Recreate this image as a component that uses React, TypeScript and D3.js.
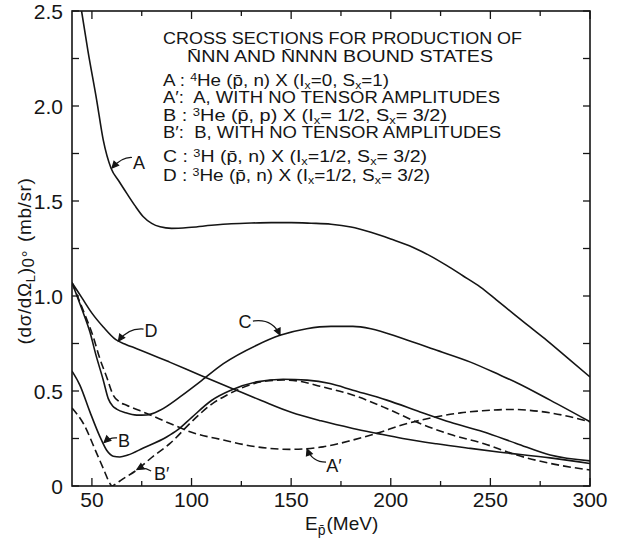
import React from 'react';
import * as d3 from 'd3';

const W = 627;
const H = 542;
const FONT = '"Liberation Sans", Arial, sans-serif';
const INK = '#151515';

// axis domains and ticks
const energyDomain: [number, number] = [40, 300];
const sigmaDomain: [number, number] = [0, 2.5];
const xLabelTicks = [50, 100, 150, 200, 250, 300];
const xMinorTicks = [75, 125, 175, 225, 275];
const yLabelTicks = [0, 0.5, 1, 1.5, 2, 2.5];
const yMinorTicks = [0.25, 0.75, 1.25, 1.75, 2.25];

// curves: [E (MeV), dsigma/dOmega (mb/sr)]
const curveA: [number, number][] = [
  [44.8, 2.5], [48, 2.29], [52.4, 2.03], [55.7, 1.82], [59.6, 1.672], [63.5, 1.605], [67.5, 1.54],
  [71.5, 1.477], [75.8, 1.417], [80, 1.382], [84.2, 1.364], [90, 1.356], [100, 1.362], [110, 1.372],
  [120, 1.38], [130, 1.384], [140, 1.386], [150, 1.386], [160, 1.383], [170, 1.378], [180, 1.363],
  [190, 1.335], [200, 1.3], [211, 1.257], [220, 1.21], [228, 1.161], [236, 1.108], [245, 1.047],
  [253, 0.98], [261.5, 0.907], [270, 0.836], [278.3, 0.767], [289, 0.672], [300, 0.574],
];
const curveAPrime: [number, number][] = [
  [40, 1.07], [45, 0.94], [50.7, 0.784], [54, 0.67], [57.4, 0.574], [60.7, 0.478], [63.5, 0.445],
  [67.4, 0.425], [77.5, 0.382], [89.2, 0.329], [100, 0.283], [116, 0.242], [132.7, 0.206],
  [149.4, 0.193], [166, 0.206], [181, 0.242], [193, 0.277], [206, 0.322], [223, 0.364],
  [235, 0.385], [246, 0.396], [260, 0.403], [280, 0.385], [300, 0.338],
];
const curveB: [number, number][] = [
  [40, 0.605], [44, 0.53], [49, 0.39], [54, 0.26], [57.4, 0.188], [60.7, 0.157], [64, 0.153],
  [68, 0.163], [75.8, 0.2], [87.5, 0.258], [93, 0.295], [100, 0.36], [110, 0.45], [120, 0.505],
  [132.7, 0.548], [146, 0.562], [158, 0.557], [169.5, 0.539], [181, 0.504], [198, 0.452],
  [214.7, 0.39], [230, 0.335], [246.4, 0.285], [263, 0.224], [280, 0.163], [300, 0.132],
];
const curveBPrime: [number, number][] = [
  [40, 0.41], [45.7, 0.329], [52.4, 0.172], [56, 0.085], [59, 0.014], [60, 0], [62, 0.012],
  [66, 0.04], [72.5, 0.084], [80, 0.15], [89.2, 0.224], [100.9, 0.347], [110, 0.43],
  [117.6, 0.478], [125, 0.515], [137.7, 0.553], [146, 0.558], [155, 0.55], [164.5, 0.525],
  [181.2, 0.478], [198, 0.408], [214.7, 0.329], [229.7, 0.272], [246.4, 0.224], [263.2, 0.163],
  [280, 0.119], [300, 0.084],
];
const curveC: [number, number][] = [
  [40, 1.07], [45, 0.93], [49, 0.81], [52, 0.69], [55.7, 0.557], [58.2, 0.46], [60.5, 0.42],
  [62.4, 0.405], [67, 0.385], [72.5, 0.373], [77.5, 0.374], [84.2, 0.399], [94.2, 0.469],
  [104.2, 0.548], [116, 0.644], [132.7, 0.741], [144.4, 0.793], [157.8, 0.828], [170, 0.84],
  [181, 0.84], [190, 0.828], [206, 0.776], [222, 0.718], [240, 0.652], [255, 0.583],
  [263, 0.545], [280, 0.452], [300, 0.338],
];
const curveD: [number, number][] = [
  [40, 1.07], [45, 0.99], [50, 0.91], [55.7, 0.837], [62, 0.77], [67, 0.745], [72.5, 0.723],
  [89, 0.652], [105, 0.58], [120, 0.515], [135, 0.45], [150, 0.388], [165, 0.343], [181, 0.303],
  [193, 0.277], [206, 0.25], [223, 0.222], [240, 0.198], [255, 0.178], [280, 0.148], [300, 0.118],
];

const series = [
  { id: 'A', points: curveA, dashed: false },
  { id: 'Ap', points: curveAPrime, dashed: true },
  { id: 'B', points: curveB, dashed: false },
  { id: 'Bp', points: curveBPrime, dashed: true },
  { id: 'C', points: curveC, dashed: false },
  { id: 'D', points: curveD, dashed: false },
];

// curve labels, in data units: label position, arrow start, control, tip
const curveLabels = [
  { text: 'A', at: [73.6, 1.705], from: [70.1, 1.729], ctrl: [65.1, 1.732], to: [60.1, 1.674] },
  { text: 'D', at: [79.7, 0.816], from: [75.9, 0.826], ctrl: [68.1, 0.832], to: [63.3, 0.763] },
  { text: 'C', at: [126.8, 0.868], from: [130.8, 0.868], ctrl: [140.4, 0.884], to: [144.4, 0.795] },
  { text: 'B', at: [66.1, 0.242], from: [62.6, 0.253], ctrl: [59.1, 0.258], to: [56.1, 0.229] },
  { text: 'B\u2032', at: [85, 0.068], from: [79.7, 0.079], ctrl: [75.6, 0.105], to: [72.6, 0.087] },
  { text: 'A\u2032', at: [171.5, 0.11], from: [167.5, 0.126], ctrl: [160.5, 0.126], to: [158, 0.195] },
];

const Sub: React.FC<{ children: React.ReactNode }> = ({ children }) => (
  <tspan baselineShift="-2.5" fontSize={10.5}>{children}</tspan>
);
const Sup: React.FC<{ children: React.ReactNode }> = ({ children }) => (
  <tspan baselineShift="5" fontSize={10.5}>{children}</tspan>
);

const App: React.FC = () => {
  const x = d3.scaleLinear().domain(energyDomain).range([72, 590]);
  const y = d3.scaleLinear().domain(sigmaDomain).range([486, 11]);
  const [x0, x1] = x.range();
  const [y0, y1] = y.range();

  const line = d3
    .line<[number, number]>()
    .x((d) => x(d[0]))
    .y((d) => y(d[1]))
    .curve(d3.curveMonotoneX);

  const fmtY = (v: number) => (v === 0 ? '0' : d3.format('.1f')(v));

  const legendLines = [
    { y: 44, len: 359, content: <>CROSS SECTIONS FOR PRODUCTION OF</> },
    { y: 62, len: 306, x: 187, content: <>N&#x0304;NN AND N&#x0304;NNN BOUND STATES</> },
    {
      y: 85.5, len: 226,
      content: <>A : <Sup>4</Sup>He (p&#x0304;, n) X (I<Sub>x</Sub>=0, S<Sub>x</Sub>=1)</>,
    },
    { y: 103, len: 337, content: <>A&#x2032;:  A, WITH NO TENSOR AMPLITUDES</> },
    {
      y: 120.5, len: 284,
      content: <>B : <Sup>3</Sup>He (p&#x0304;, p) X (I<Sub>x</Sub>= 1/2, S<Sub>x</Sub>= 3/2)</>,
    },
    { y: 137.5, len: 338, content: <>B&#x2032;:  B, WITH NO TENSOR AMPLITUDES</> },
    {
      y: 162, len: 264,
      content: <>C : <Sup>3</Sup>H (p&#x0304;, n) X (I<Sub>x</Sub>=1/2, S<Sub>x</Sub>= 3/2)</>,
    },
    {
      y: 181, len: 267,
      content: <>D : <Sup>3</Sup>He (p&#x0304;, n) X (I<Sub>x</Sub>=1/2, S<Sub>x</Sub>= 3/2)</>,
    },
  ];

  return (
    <svg
      width={W}
      height={H}
      viewBox={`0 0 ${W} ${H}`}
      style={{ position: 'absolute', left: 0, top: 0, background: '#fff' }}
      fontFamily={FONT}
    >
      <defs>
        <clipPath id="plot">
          <rect x={x0} y={y1} width={x1 - x0} height={y0 - y1} />
        </clipPath>
      </defs>
      <rect width={W} height={H} fill="#fff" />

      {/* curves */}
      <g clipPath="url(#plot)" fill="none" stroke={INK} strokeWidth={1.6}>
        {series.map((s) => (
          <path key={s.id} d={line(s.points) ?? ''} strokeDasharray={s.dashed ? '8,4' : undefined} />
        ))}
      </g>

      {/* frame */}
      <rect x={x0} y={y1} width={x1 - x0} height={y0 - y1} fill="none" stroke={INK} strokeWidth={1.6} />

      {/* ticks, pointing inward on all four sides */}
      <g stroke={INK} strokeWidth={1.3}>
        {xLabelTicks.concat(xMinorTicks).map((t) => {
          const len = xLabelTicks.includes(t) ? 8 : 5;
          return (
            <g key={`xt${t}`}>
              <line x1={x(t)} x2={x(t)} y1={y0} y2={y0 - len} />
              <line x1={x(t)} x2={x(t)} y1={y1} y2={y1 + len} />
            </g>
          );
        })}
        {yLabelTicks.concat(yMinorTicks).map((t) => (
          <g key={`yt${t}`}>
            <line x1={x0} x2={x0 + 7} y1={y(t)} y2={y(t)} />
            <line x1={x1} x2={x1 - 7} y1={y(t)} y2={y(t)} />
          </g>
        ))}
      </g>

      {/* tick labels */}
      <g fill={INK} fontSize={21}>
        {yLabelTicks.map((t) => (
          <text key={`yl${t}`} x={x0 - 9} y={y(t)} dy="0.36em" textAnchor="end">
            {fmtY(t)}
          </text>
        ))}
        {xLabelTicks.map((t) => (
          <text key={`xl${t}`} x={x(t)} y={y0 + 21} textAnchor="middle">
            {t}
          </text>
        ))}
      </g>

      {/* axis titles */}
      <text x={305} y={530} fontSize={19} fill={INK}>
        E<tspan baselineShift="-5" fontSize={14}>p&#x0304;</tspan>
        <tspan dx={1}>(MeV)</tspan>
      </text>
      <text transform="translate(31,261) rotate(-90)" textAnchor="middle" fontSize={19} fill={INK} letterSpacing={0.6}>
        (d&#x03C3;/d&#x03A9;<tspan baselineShift="-4" fontSize={13}>L</tspan>)
        <tspan baselineShift="-3" fontSize={17}>0&#x00B0;</tspan>
        <tspan dx={8}>(mb/sr)</tspan>
      </text>

      {/* legend block */}
      <g fill={INK} fontSize={16}>
        {legendLines.map((l, i) => (
          <text key={i} x={l.x ?? 163} y={l.y} textLength={l.len} lengthAdjust="spacingAndGlyphs" xmlSpace="preserve">
            {l.content}
          </text>
        ))}
      </g>

      {/* curve labels with arrows */}
      <g fill="none" stroke={INK} strokeWidth={1.2}>
        {curveLabels.map((c) => {
          const sx = x(c.from[0]), sy = y(c.from[1]);
          const cx = x(c.ctrl[0]), cy = y(c.ctrl[1]);
          const ex = x(c.to[0]), ey = y(c.to[1]);
          const ang = Math.atan2(ey - cy, ex - cx);
          const hl = 7;
          const a1 = ang + Math.PI - 0.45;
          const a2 = ang + Math.PI + 0.45;
          return (
            <g key={c.text}>
              <path d={`M${sx},${sy}Q${cx},${cy} ${ex},${ey}`} />
              <path
                d={`M${ex + hl * Math.cos(a1)},${ey + hl * Math.sin(a1)}L${ex},${ey}L${ex + hl * Math.cos(a2)},${ey + hl * Math.sin(a2)}Z`}
                fill={INK}
              />
            </g>
          );
        })}
      </g>
      <g fill={INK} fontSize={18}>
        {curveLabels.map((c) => (
          <text key={c.text} x={x(c.at[0])} y={y(c.at[1])} dy="0.36em" textAnchor="middle">
            {c.text}
          </text>
        ))}
      </g>
    </svg>
  );
};

export default App;
